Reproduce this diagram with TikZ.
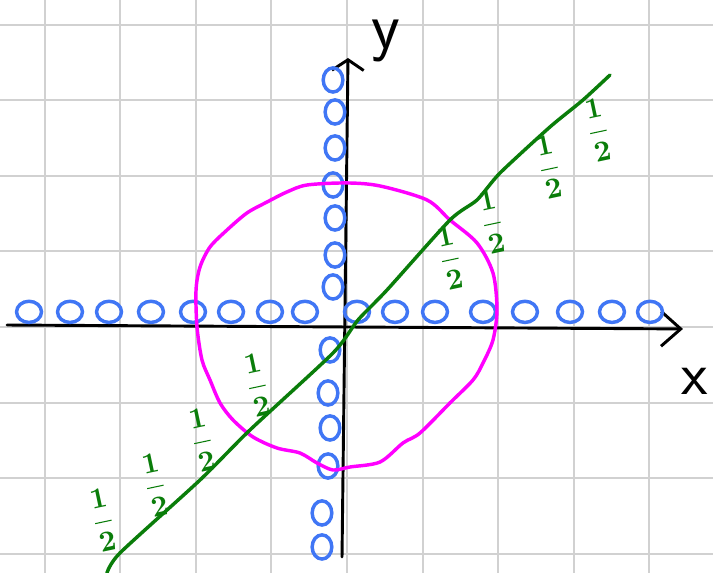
\documentclass[tikz,border=0pt]{standalone}
\usetikzlibrary{arrows.meta}
\definecolor{penblue}{RGB}{64,118,245}
\definecolor{pengreen}{RGB}{10,125,10}
\definecolor{penpink}{RGB}{255,0,255}

\begin{document}
\begin{tikzpicture}[
		gridline/.style={draw=black!18, line width=0.8pt},
		axis/.style={line width=1.1pt, line cap=round, line join=round},
		ring/.style={draw=penblue, line width=1.3pt},
		half/.style={text=pengreen, inner sep=0pt, rotate=12, font=\boldmath\fontsize{10.5}{12}\selectfont},
		axislabel/.style={inner sep=0pt, font=\sffamily\fontsize{#1}{#1}\selectfont}
	]
	\fill[white] (-4.59,-3.254) rectangle (4.841,4.325);
	\useasboundingbox (-4.59,-3.254) rectangle (4.841,4.325);
	\draw[gridline] (-4.59,-3.254) grid (4.841,4.325);

	\coordinate (xl) at (-4.497,0.026);
	\coordinate (xr) at (4.444,-0.026);
	\coordinate (yb) at (-0.066,-3.042);
	\coordinate (yt) at (0.013,3.558);
	\draw[axis, -{Straight Barb[length=2.6mm,width=4.6mm]}] (xl) -- (xr);
	\draw[axis, -{Straight Barb[length=1.4mm,width=4.2mm]}] (yb) -- (yt);
	\node[axislabel=25] (ylab) at (0.516,3.78) {y};
	\node[axislabel=23] (xlab) at (4.603,-0.714) {x};

	\foreach \x in {-4.206,-3.664,-3.148,-2.593,-2.037,-1.534,-1.019,-0.556,0.132,0.635,1.164,1.799,2.354,2.950,3.505,4.008}
		\draw[ring] (\x,0.2) ellipse (0.165 and 0.14);
	\foreach \x/\y in {-0.185/3.267,-0.159/2.844,-0.159/2.368,-0.185/1.878,-0.159/1.442,-0.159/0.952,-0.185/0.529,-0.225/-0.304,-0.251/-0.873,-0.225/-1.336,-0.251/-1.839,-0.331/-2.460,-0.331/-2.910}
		\draw[ring] (\x,\y) ellipse (0.13 and 0.16);

	\draw[penpink, line width=1.3pt] plot[smooth cycle, tension=0.5] coordinates {
		(0,1.905) (0.437,1.865) (1.058,1.680) (1.362,1.415) (1.720,1.111) (1.931,0.714)
		(1.984,0.225) (1.931,-0.172) (1.799,-0.476) (1.667,-0.701) (1.362,-1.005)
		(0.966,-1.402) (0.741,-1.534) (0.437,-1.786) (0.040,-1.852) (-0.185,-1.892)
		(-0.397,-1.799) (-0.622,-1.667) (-0.926,-1.601) (-1.243,-1.455) (-1.508,-1.230)
		(-1.680,-1.005) (-1.812,-0.701) (-1.918,-0.437) (-1.984,0) (-1.997,0.489)
		(-1.944,0.794) (-1.812,1.058) (-1.587,1.283) (-1.323,1.508) (-1.058,1.653)
		(-0.794,1.786) (-0.529,1.878)};

	\draw[pengreen, line width=1.3pt, line cap=round] plot[smooth, tension=0.4] coordinates {
		(-3.175,-3.254) (-3.003,-2.989) (-1.944,-2.024) (-1.283,-1.362) (-0.185,-0.344)
		(0.146,0.093) (0.529,0.489) (1.362,1.415) (1.720,1.680) (2.024,2.037)
		(2.685,2.646) (3.122,3.003) (3.479,3.333)};

	\foreach \x/\y [count=\i] in {-3.228/-2.553,-2.540/-2.090,-1.918/-1.495,-1.190/-0.767,1.362/0.913,1.918/1.389,2.672/2.116,3.320/2.606}
		\node[half] (h\i) at (\x,\y) {$\displaystyle\frac{1}{2}$};
\end{tikzpicture}
\end{document}
